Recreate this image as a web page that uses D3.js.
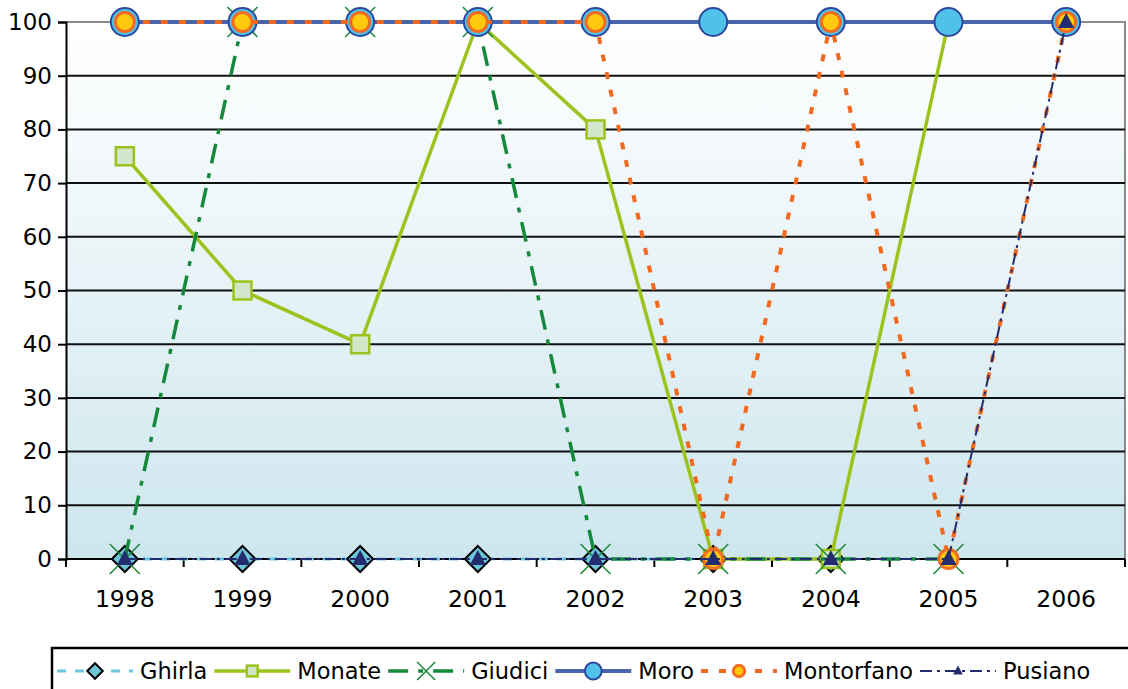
<!DOCTYPE html>
<html>
<head>
<meta charset="utf-8">
<script src="https://cdn.jsdelivr.net/npm/d3@7/dist/d3.min.js"></script>
<style>
  html, body { margin: 0; padding: 0; background: #fff; }
  svg { display: block; font-family: "DejaVu Sans", "Liberation Sans", sans-serif; }
</style>
</head>
<body>
<svg id="chart" width="1128" height="689"></svg>
<script>
// Years on the category axis
const years = ["1998", "1999", "2000", "2001", "2002", "2003", "2004", "2005", "2006"];

// Percent values per lake (null = no observation)
const ghirla     = [0, 0, 0, 0, 0, 0, 0, null, null];
const monate     = [75, 50, 40, 100, 80, 0, 0, 100, 100];
const giudici    = [0, 100, 100, 100, 0, 0, 0, 0, null];
const moro       = [100, 100, 100, 100, 100, 100, 100, 100, 100];
const montorfano = [100, 100, 100, 100, 100, 0, 100, 0, 100];
const pusiano    = [0, 0, 0, 0, 0, 0, 0, 0, 100];

const yTicks = [0, 10, 20, 30, 40, 50, 60, 70, 80, 90, 100];

const series = [
  { name: "Ghirla",     values: ghirla,     color: "#6cc6dc", width: 3,   dash: "9,9",        marker: "diamond" },
  { name: "Monate",     values: monate,     color: "#9cc31d", width: 3.5, dash: null,         marker: "square" },
  { name: "Giudici",    values: giudici,    color: "#15893b", width: 3.5, dash: "20,10,5,10", marker: "cross" },
  { name: "Moro",       values: moro,       color: "#4a63ad", width: 4,   dash: null,         marker: "circle" },
  { name: "Montorfano", values: montorfano, color: "#f0691f", width: 4,   dash: "7,11",       marker: "dot" },
  { name: "Pusiano",    values: pusiano,    color: "#222c6e", width: 2,   dash: "12,5,3,5",   marker: "triangle" }
];

const svg = d3.select("#chart");
const plotL = 66, plotR = 1125, plotT = 22, plotB = 559;

const x = d3.scaleBand().domain(years).range([plotL, plotR]);
const cx = d => x(d) + x.bandwidth() / 2;
const y = d3.scaleLinear().domain([0, 100]).range([plotB, plotT]);

// Plot background: soft vertical gradient
const defs = svg.append("defs");
const grad = defs.append("linearGradient").attr("id", "bg").attr("x1", 0).attr("y1", 0).attr("x2", 0).attr("y2", 1);
grad.append("stop").attr("offset", "0%").attr("stop-color", "#ffffff");
grad.append("stop").attr("offset", "100%").attr("stop-color", "#cde6ee");
svg.append("rect").attr("x", plotL).attr("y", plotT).attr("width", plotR - plotL).attr("height", plotB - plotT)
  .attr("fill", "url(#bg)");

// Frame right edge and top in grey
svg.append("path")
  .attr("d", `M${plotL},${plotT}H${plotR}V${plotB}`)
  .attr("fill", "none").attr("stroke", "#8a8a8a").attr("stroke-width", 2);

// Horizontal gridlines
svg.append("g").selectAll("line").data(yTicks.filter(t => t > 0 && t < 100)).join("line")
  .attr("x1", plotL).attr("x2", plotR)
  .attr("y1", d => y(d)).attr("y2", d => y(d))
  .attr("stroke", "#111").attr("stroke-width", 2);

// Y axis
const yAxis = svg.append("g").attr("transform", `translate(${plotL},0)`)
  .call(d3.axisLeft(y).tickValues(yTicks).tickSize(8).tickPadding(6));
yAxis.select(".domain").attr("stroke", "#000").attr("stroke-width", 2);
yAxis.selectAll(".tick line").attr("stroke", "#000").attr("stroke-width", 2);
yAxis.selectAll(".tick text").attr("font-size", 23).attr("fill", "#000")
  .attr("font-family", "DejaVu Sans, sans-serif");

// X axis: labels centred on categories, ticks at category boundaries
const xAxis = svg.append("g").attr("transform", `translate(0,${plotB})`);
xAxis.append("line").attr("x1", plotL).attr("x2", plotR).attr("y1", 0).attr("y2", 0)
  .attr("stroke", "#000").attr("stroke-width", 2);
const bounds = years.map(d => x(d)).concat([plotR]);
xAxis.selectAll("line.tk").data(bounds).join("line").attr("class", "tk")
  .attr("x1", d => d).attr("x2", d => d).attr("y1", 0).attr("y2", 8)
  .attr("stroke", "#000").attr("stroke-width", 2);
xAxis.selectAll("text").data(years).join("text")
  .attr("x", d => cx(d)).attr("y", 48)
  .attr("text-anchor", "middle").attr("font-size", 23.5).attr("fill", "#000")
  .text(d => d);

// Marker drawing
function drawMarker(g, type, s) {
  switch (type) {
    case "diamond":
      g.append("path").attr("d", `M0,${-13 * s}L${13 * s},0L0,${13 * s}L${-13 * s},0Z`)
        .attr("fill", "#6cc5d9").attr("stroke", "#000").attr("stroke-width", 2);
      break;
    case "square":
      g.append("rect").attr("x", -9 * s).attr("y", -9 * s).attr("width", 18 * s).attr("height", 18 * s)
        .attr("fill", "#d2e6c9").attr("stroke", "#9cc31d").attr("stroke-width", 2.5);
      break;
    case "cross":
      g.append("path").attr("d", `M${-15 * s},${-15 * s}L${15 * s},${15 * s}M${15 * s},${-15 * s}L${-15 * s},${15 * s}`)
        .attr("stroke", "#1d8b3d").attr("stroke-width", 1.6).attr("fill", "none");
      break;
    case "circle":
      g.append("circle").attr("r", 14 * s)
        .attr("fill", "#4fc1ea").attr("stroke", "#2b4a9e").attr("stroke-width", 2);
      break;
    case "dot":
      g.append("circle").attr("r", 9.5 * s)
        .attr("fill", "#ffc90e").attr("stroke", "#f26d21").attr("stroke-width", 3);
      break;
    case "triangle":
      g.append("path").attr("d", `M0,${-9 * s}L${8 * s},${6 * s}L${-8 * s},${6 * s}Z`)
        .attr("fill", "#222c6e");
      break;
  }
}

// Lines and markers, drawn series by series
const line = d3.line().defined(d => d.v != null).x(d => cx(d.year)).y(d => y(d.v));
series.forEach(s => {
  const pts = years.map((yr, i) => ({ year: yr, v: s.values[i] }));
  const g = svg.append("g");
  g.append("path").datum(pts).attr("d", line)
    .attr("fill", "none").attr("stroke", s.color).attr("stroke-width", s.width)
    .attr("stroke-dasharray", s.dash).attr("stroke-linejoin", "round");
  pts.filter(p => p.v != null).forEach(p => {
    const m = g.append("g").attr("transform", `translate(${cx(p.year)},${y(p.v)})`);
    drawMarker(m, s.marker, 1);
  });
});

// Legend
const legY = 671;
const leg = svg.append("g");
leg.append("path").attr("d", "M52,689V648H1128").attr("fill", "none")
  .attr("stroke", "#000").attr("stroke-width", 2.5);
let lx = 57;
series.forEach(s => {
  const g = leg.append("g");
  g.append("line").attr("x1", lx).attr("x2", lx + 76).attr("y1", legY).attr("y2", legY)
    .attr("stroke", s.color).attr("stroke-width", s.width).attr("stroke-dasharray", s.dash);
  const m = g.append("g").attr("transform", `translate(${lx + 38},${legY})`);
  drawMarker(m, s.marker, 0.6);
  const t = g.append("text").attr("x", lx + 83).attr("y", legY + 8)
    .attr("font-size", 22.5).attr("fill", "#000").text(s.name);
  lx += 83 + t.node().getComputedTextLength() + 7;
});
</script>
</body>
</html>
